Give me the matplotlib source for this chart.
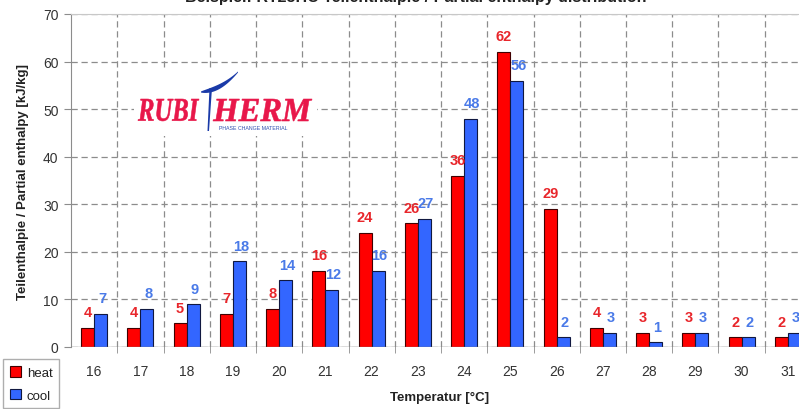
import numpy as np
import matplotlib
matplotlib.use("Agg")
import matplotlib.pyplot as plt
from matplotlib.patches import Rectangle, PathPatch, Polygon
from matplotlib.textpath import TextPath
from matplotlib.font_manager import FontProperties
from matplotlib.transforms import Affine2D

temperatures = ["16", "17", "18", "19", "20", "21", "22", "23",
                "24", "25", "26", "27", "28", "29", "30", "31"]
heat = [4, 4, 5, 7, 8, 16, 24, 26, 36, 62, 29, 4, 3, 3, 2, 2]
cool = [7, 8, 9, 18, 14, 12, 16, 27, 48, 56, 2, 3, 1, 3, 2, 3]

RED = "#ff0000"
BLUE = "#3366ff"
RED_TXT = "#e8262b"
BLUE_TXT = "#4a7ae8"
GRID = "#8c8c8c"

plt.rcParams["font.family"] = ["Liberation Sans", "DejaVu Sans"]

W, H = 799, 410
fig = plt.figure(figsize=(W / 100, H / 100), dpi=100)


def px(x, y):
    return x / W, 1 - y / H


# axes box: left edge x=71, right edge beyond the figure, 0 at y=348, 70 at y=15
ax = fig.add_axes([71 / W, (H - 348) / H, 740 / W, 333 / H])

x = np.arange(len(temperatures))
bw = 0.28
ax.bar(x - bw / 2, heat, bw, color=RED, edgecolor="#400000", linewidth=0.8,
       label="heat", zorder=3)
ax.bar(x + bw / 2, cool, bw, color=BLUE, edgecolor="#101840", linewidth=0.8,
       label="cool", zorder=3)

for i, v in enumerate(heat):
    ax.text(x[i] - bw / 2, v + 1.8, str(v), ha="center", va="bottom",
            color=RED_TXT, fontsize=10.5, fontweight="bold", zorder=5)
for i, v in enumerate(cool):
    ax.text(x[i] + bw / 2 + 0.03, v + 1.8, str(v), ha="center", va="bottom",
            color=BLUE_TXT, fontsize=10.5, fontweight="bold", zorder=5)

ax.set_xlim(-0.5, len(temperatures) - 0.5)
ax.set_ylim(0, 70)
ax.set_yticks(np.arange(0, 71, 10))
ax.set_xticks(x)
ax.set_xticklabels(temperatures)
ax.set_xticks(np.arange(0.5, len(temperatures) - 0.5, 1), minor=True)

ax.grid(axis="y", which="major", color=GRID, linestyle=(0, (5, 3)),
        linewidth=0.9, zorder=0)
ax.grid(axis="x", which="minor", color=GRID, linestyle=(0, (5, 3)),
        linewidth=0.9, zorder=0)
ax.grid(axis="x", which="major", visible=False)

for side in ["right", "bottom"]:
    ax.spines[side].set_visible(False)
ax.spines["left"].set_color(GRID)
ax.spines["top"].set_color("#c8c8c8")
ax.axhline(0, color=GRID, linewidth=1.0, zorder=4)

ax.tick_params(axis="y", colors=GRID, labelcolor="#333333", labelsize=10,
               length=5, direction="out", pad=4)
ax.tick_params(axis="x", which="major", length=0, labelsize=10,
               labelcolor="#333333", pad=12)
ax.tick_params(axis="x", which="minor", length=8, direction="inout",
               color=GRID)

fig.text(*px(23, 182), "Teilenthalpie / Partial enthalpy [kJ/kg]",
         rotation=90, ha="center", va="center", fontsize=9.5,
         fontweight="bold", color="#222222")
fig.text(*px(440, 398), "Temperatur [°C]", ha="center", va="center",
         fontsize=9.5, fontweight="bold", color="#222222")
fig.text(*px(416, 2), "Beispiel: RT25HC Teilenthalpie / Partial enthalpy distribution",
         ha="center", va="baseline", fontsize=11.5, fontweight="bold",
         color="#222222")

# legend
leg = fig.legend(loc="upper left", bbox_to_anchor=px(3, 360), fontsize=9.5,
                 handlelength=0.9, handleheight=0.9, handletextpad=0.4,
                 labelspacing=0.75, borderpad=0.5, frameon=True, fancybox=False,
                 edgecolor="#9a9a9a", borderaxespad=0)
for t in leg.get_texts():
    t.set_color("#222222")

# company logo
pix = Affine2D().scale(1 / W, 1 / H) + fig.transFigure
fig.patches.append(Rectangle((134, H - 137), 183, 65, transform=pix,
                             facecolor="white", edgecolor="none", zorder=6))

logo_red = "#e8174a"
logo_blue = "#1a3aa8"
logo_font = FontProperties(family="Liberation Serif", weight="bold",
                           style="italic")


def boxed_text(s, x0, x1, ytop, ybot, color):
    tp = TextPath((0, 0), s, size=10, prop=logo_font)
    bb = tp.get_extents()
    tr = (Affine2D().translate(-bb.x0, -bb.y0)
          .scale((x1 - x0) / bb.width, (ybot - ytop) / bb.height)
          .translate(x0, H - ybot)) + pix
    fig.patches.append(PathPatch(tp, transform=tr, facecolor=color,
                                 edgecolor=color, linewidth=0.4, zorder=7))


boxed_text("RUBI", 138, 199, 100, 122, logo_red)
boxed_text("HERM", 213, 312, 100, 122, logo_red)

# blue T: stem and brush-stroke crossbar
fig.add_artist(Polygon([(209.5, H - 89), (212, H - 89), (209, H - 132),
                        (207.5, H - 132)], closed=True, transform=pix,
                       facecolor=logo_blue, edgecolor="none", zorder=8))
t = np.linspace(0, 1, 40)
cx = 201 + 37 * t
cy = 93 - 4 * t - 16 * t ** 2.2
thick = 1.0 + 4.0 * np.sin(np.pi * t ** 0.8)
upper = np.column_stack([cx, H - (cy - thick / 2)])
lower = np.column_stack([cx, H - (cy + thick / 2)])[::-1]
fig.add_artist(Polygon(np.vstack([upper, lower]), closed=True, transform=pix,
                       facecolor=logo_blue, edgecolor="none", zorder=8))
fig.text(*px(219, 129), "PHASE CHANGE MATERIAL", ha="left", va="center",
         fontsize=3.8, color="#3050b0", zorder=7)

fig.savefig("out.png", dpi=100)
